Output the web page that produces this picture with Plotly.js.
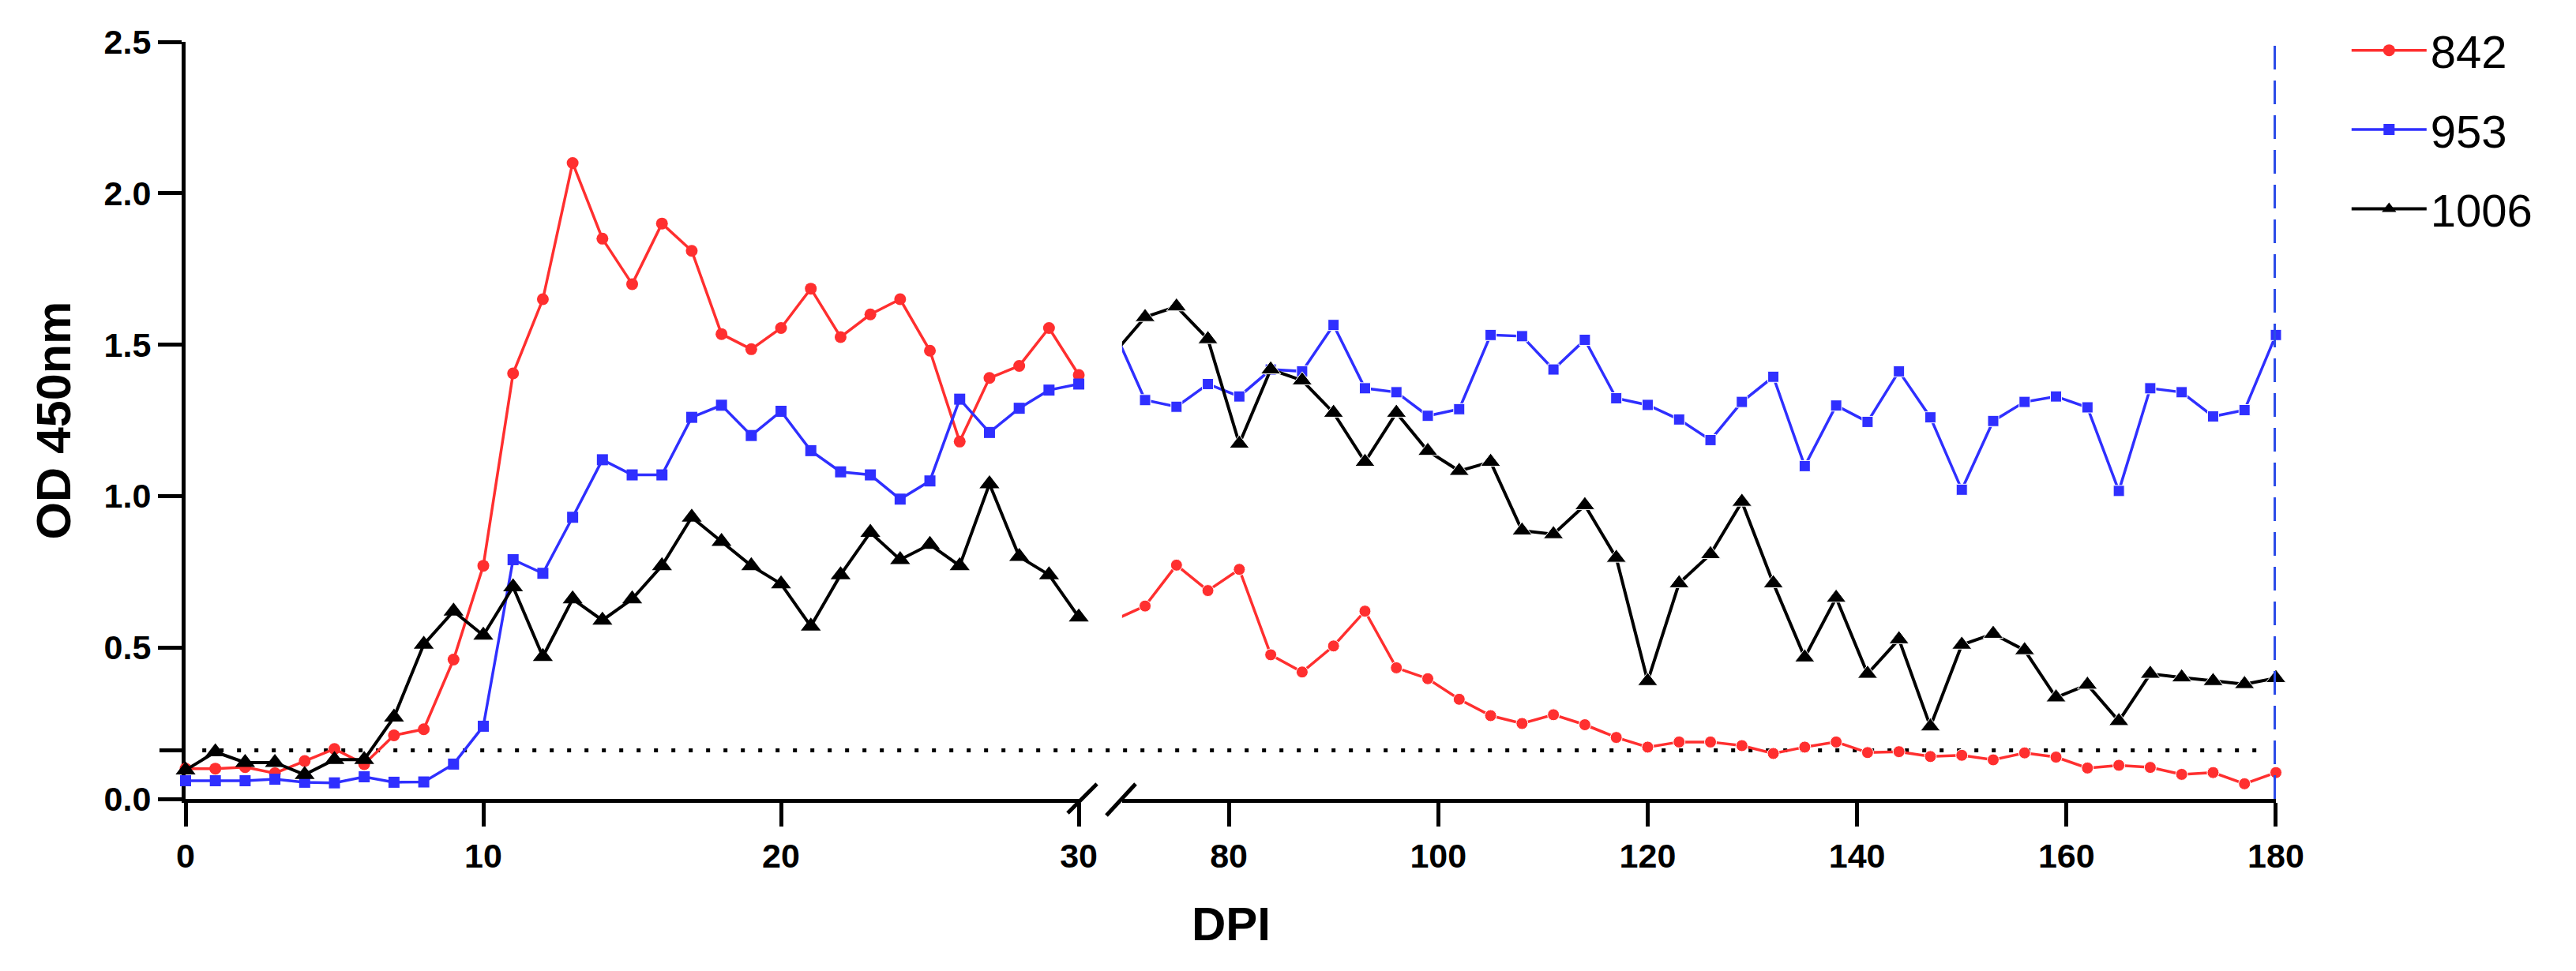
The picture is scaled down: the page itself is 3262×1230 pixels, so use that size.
<!DOCTYPE html>
<html>
<head>
<meta charset="utf-8">
<script src="https://cdn.plot.ly/plotly-3.0.1.min.js"></script>
<style>
  body { margin: 0; background: #fff; }
  #chart { width: 3262px; height: 1230px; }
</style>
</head>
<body>
<div id="chart"></div>
<script>
// days 0-30, sampled daily
let dpiEarly = [0, 1, 2, 3, 4, 5, 6, 7, 8, 9, 10, 11, 12, 13, 14, 15, 16, 17, 18, 19, 20,
                21, 22, 23, 24, 25, 26, 27, 28, 29, 30];
let od842Early = [0.10, 0.10, 0.105, 0.085, 0.125, 0.165, 0.115, 0.21, 0.23, 0.46, 0.77,
                  1.405, 1.65, 2.10, 1.85, 1.70, 1.90, 1.81, 1.535, 1.485, 1.555,
                  1.685, 1.525, 1.60, 1.65, 1.48, 1.18, 1.39, 1.43, 1.555, 1.40];
let od953Early = [0.06, 0.06, 0.06, 0.065, 0.055, 0.053, 0.073, 0.055, 0.056, 0.115, 0.24,
                  0.79, 0.745, 0.93, 1.12, 1.07, 1.07, 1.26, 1.30, 1.20, 1.28,
                  1.15, 1.08, 1.07, 0.99, 1.05, 1.32, 1.21, 1.29, 1.35, 1.37];
let od1006Early = [0.095, 0.155, 0.12, 0.12, 0.08, 0.13, 0.13, 0.27, 0.51, 0.62, 0.54,
                   0.70, 0.47, 0.66, 0.59, 0.66, 0.77, 0.93, 0.85, 0.77, 0.71,
                   0.57, 0.74, 0.88, 0.79, 0.84, 0.77, 1.04, 0.80, 0.74, 0.60];

// days 69-180, every 3 days (69 sits just left of the axis break)
let dpiLate = [69, 72, 75, 78, 81, 84, 87, 90, 93, 96, 99, 102, 105, 108, 111, 114, 117, 120,
               123, 126, 129, 132, 135, 138, 141, 144, 147, 150, 153, 156, 159, 162, 165,
               168, 171, 174, 177, 180];
let od842Late = [0.59, 0.637, 0.772, 0.688, 0.758, 0.476, 0.419, 0.505, 0.62, 0.433, 0.397,
                 0.329, 0.275, 0.249, 0.278, 0.245, 0.203, 0.171, 0.188, 0.188, 0.176, 0.15,
                 0.171, 0.188, 0.153, 0.156, 0.14, 0.144, 0.129, 0.152, 0.138, 0.102, 0.111,
                 0.104, 0.081, 0.087, 0.05, 0.087];
let od953Late = [1.55, 1.317, 1.295, 1.37, 1.329, 1.418, 1.412, 1.565, 1.356, 1.343, 1.265,
                 1.287, 1.532, 1.528, 1.418, 1.516, 1.323, 1.301, 1.253, 1.185, 1.311, 1.394,
                 1.099, 1.299, 1.245, 1.412, 1.26, 1.021, 1.248, 1.311, 1.329, 1.293, 1.017,
                 1.356, 1.343, 1.263, 1.284, 1.532];
let od1006Late = [1.47, 1.591, 1.626, 1.518, 1.173, 1.418, 1.382, 1.275, 1.113, 1.275, 1.149,
                  1.083, 1.113, 0.886, 0.874, 0.97, 0.796, 0.389, 0.712, 0.808, 0.981, 0.712,
                  0.467, 0.664, 0.413, 0.527, 0.239, 0.509, 0.545, 0.491, 0.335, 0.377, 0.257,
                  0.413, 0.401, 0.389, 0.379, 0.399];

let cutoff = 0.16;
let seriesNames = ['842', '953', '1006'];
let yTicks = [0, 0.5, 1.0, 1.5, 2.0, 2.5];
let xTicksEarly = [0, 10, 20, 30];
let xTicksLate = [80, 100, 120, 140, 160, 180];

let lateStart = 69.8;
let red = '#ff2f2f', blue = '#2f2fff', black = '#000000';
let fontName = 'Liberation Sans, Arial, sans-serif';

function sizes(xs, s) {
    return xs.map(x => (x < lateStart ? 0 : s));
}

let styles = [
    { color: red, symbol: 'circle', size: 15, width: 3.5 },
    { color: blue, symbol: 'square', size: 14, width: 3.5 },
    { color: black, symbol: 'triangle-up', size: 22, width: 4 },
];
let earlyY = [od842Early, od953Early, od1006Early];
let lateY = [od842Late, od953Late, od1006Late];

let data = [];
for (let i = 0; i < 3; i++) {
    let st = styles[i];
    data.push({
        type: 'scatter', mode: 'lines+markers',
        name: seriesNames[i], legendgroup: seriesNames[i],
        x: dpiEarly, y: earlyY[i], xaxis: 'x', yaxis: 'y',
        cliponaxis: false,
        line: { color: st.color, width: st.width },
        marker: { color: st.color, symbol: st.symbol, size: st.size, opacity: 1 },
    });
    data.push({
        type: 'scatter', mode: 'lines+markers',
        name: seriesNames[i], legendgroup: seriesNames[i], showlegend: false,
        x: dpiLate, y: lateY[i], xaxis: 'x2', yaxis: 'y',
        cliponaxis: false,
        line: { color: st.color, width: st.width },
        marker: { color: st.color, symbol: st.symbol, size: sizes(dpiLate, st.size), opacity: 1 },
    });
}

let W = 2647, H = 959; // plot area in px
let axisCommon = {
    showline: true, linecolor: '#000', linewidth: 5,
    ticks: 'outside', ticklen: 30, tickwidth: 5, tickcolor: '#000',
    showgrid: false, zeroline: false, layer: 'below traces',
    tickfont: { family: fontName, size: 43, color: '#000', weight: 'bold' },
};

let layout = {
    width: 3262, height: 1230,
    margin: { l: 235, r: 380, t: 53, b: 218 },
    paper_bgcolor: '#fff', plot_bgcolor: '#fff',
    showlegend: true,
    legend: {
        x: 1.0343, y: 1.035, xanchor: 'left', yanchor: 'top',
        font: { family: fontName, size: 58, color: '#000' },
        traceorder: 'grouped', tracegroupgap: 22, itemwidth: 95,
        bgcolor: 'rgba(0,0,0,0)',
    },
    xaxis: Object.assign({}, axisCommon, {
        domain: [0, 0.4273], range: [0, 30], tickvals: xTicksEarly, anchor: 'y',
    }),
    xaxis2: Object.assign({}, axisCommon, {
        domain: [0.448, 1], range: [lateStart, 180], tickvals: xTicksLate, anchor: 'y',
    }),
    yaxis: Object.assign({}, axisCommon, {
        range: [0, 2.5], tickvals: yTicks, tickformat: '.1f', anchor: 'x',
    }),
    shapes: [
        // cutoff
        { type: 'line', xref: 'paper', yref: 'y', x0: 0.008, x1: 0.997, y0: cutoff, y1: cutoff,
          line: { color: '#000', width: 5, dash: '5px,17px' }, layer: 'below' },
        { type: 'line', xref: 'paper', yref: 'y', x0: -0.0125, x1: 0, y0: cutoff, y1: cutoff,
          line: { color: '#000', width: 5 } },
        // end of study
        { type: 'line', xref: 'x2', yref: 'y', x0: 180, x1: 180, y0: 0, y1: 2.5,
          line: { color: '#2b4be8', width: 6, dash: '30px,14px' } },
        // axis break
        { type: 'line', xref: 'paper', yref: 'paper', x0: (1352 - 235) / W, x1: (1389 - 235) / W,
          y0: -18 / H, y1: 19 / H, line: { color: '#000', width: 5 } },
        { type: 'line', xref: 'paper', yref: 'paper', x0: (1401 - 235) / W, x1: (1438 - 235) / W,
          y0: -21 / H, y1: 19 / H, line: { color: '#000', width: 5 } },
    ],
    annotations: [
        { text: 'DPI', xref: 'paper', yref: 'paper', x: 0.5, y: -158 / H,
          xanchor: 'center', yanchor: 'middle', showarrow: false,
          font: { family: fontName, size: 60, color: '#000', weight: 'bold' } },
        { text: 'OD 450nm', xref: 'paper', yref: 'paper', x: (67 - 235) / W, y: 0.5,
          xanchor: 'center', yanchor: 'middle', textangle: -90, showarrow: false,
          font: { family: fontName, size: 61, color: '#000', weight: 'bold' } },
    ],
};

Plotly.newPlot('chart', data, layout, { displayModeBar: false, staticPlot: true });
</script>
</body>
</html>
